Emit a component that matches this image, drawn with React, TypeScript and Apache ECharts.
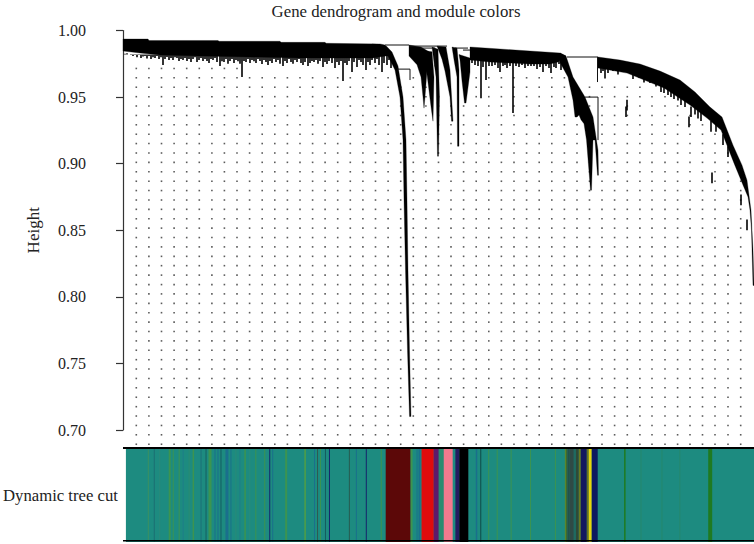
import React, { useEffect, useRef } from "react";
import * as echarts from "echarts";

type P = [number, number];

const heightTicks = [0.7, 0.75, 0.8, 0.85, 0.9, 0.95, 1.0];
const rowLabel = ["Dynamic tree cut"];

// Solid outlines of the dendrogram: [leaf rank, height]
const mainBlock: P[] = [[0,.9936],[25,.9936],[26,.9925],[95,.9925],[96,.9919],[157,.9919],[158,.9911],[202,.9911],[203,.9904],[257,.9899],[262,.9891],[262,.9808],[250,.9793],[217,.9793],[177,.9793],[127,.9801],[77,.9808],[37,.9816],[17,.9831],[0,.9846]];
const branch1: P[] = [[249,.9899],[263,.9886],[269,.9838],[275,.9733],[280,.95],[283,.9177],[284,.8725],[285,.8199],[286.5,.7597],[288,.7101],[286.5,.7101],[284.5,.7597],[282.5,.8199],[281,.8725],[280,.9177],[277,.95],[272,.9703],[265,.9808],[257,.9808]];
const fanA1: P[] = [[286,.9891],[298,.9876],[306,.984],[304,.97],[302,.95],[301,.9417],[300,.95],[298,.965],[294,.9743],[286,.9808]];
const fanA2: P[] = [[300,.985],[309,.984],[311,.965],[310,.9319],[308.5,.94],[304,.967]];
const fanA3: P[] = [[309,.9876],[315,.986],[316.5,.95],[315.5,.9056],[314.5,.9056],[313,.965]];
const fanA4: P[] = [[314,.9883],[323,.9876],[327,.9703],[330,.9319],[328.5,.9319],[327,.95],[322,.9695],[319,.9785]];
const fanA5: P[] = [[329,.9876],[334,.9868],[336,.9703],[336,.9131],[334.5,.9131],[334,.965],[331,.978]];
const fanA6: P[] = [[336,.982],[347,.9793],[347,.9688],[343,.9455],[341.5,.9455],[339,.962],[337,.9778]];
const middleBlock: P[] = [[347,.9876],[377,.9861],[407,.9846],[437,.9831],[443,.9808],[435,.9763],[427,.9748],[407,.9748],[387,.9756],[367,.9763],[347,.9778]];
const branch2: P[] = [[437,.9831],[443,.9808],[450,.965],[462,.95],[470,.935],[475,.9101],[475.5,.8913],[474.5,.8913],[472,.9177],[470,.9177],[468.5,.8801],[467.5,.8801],[463.5,.9177],[461,.93],[458,.933],[456,.9365],[454,.935],[452,.935],[450,.9477],[445,.965],[437,.976]];
const rightBlock: P[] = [[475,.9801],[497,.9778],[517,.9748],[537,.9695],[557,.9628],[572,.9538],[587,.9425],[599,.935],[610,.9139],[619,.8989],[624,.8876],[628,.865],[630,.835],[631,.8086],[630,.8086],[628.5,.85],[627,.865],[625,.875],[618,.8876],[611,.9004],[598,.9252],[584,.9342],[567,.944],[541,.9568],[504,.968],[475,.9718]];
const outlines = [mainBlock, branch1, fanA1, fanA2, fanA3, fanA4, fanA5, fanA6, middleBlock, branch2, rightBlock];

// Merge lines: [rank, height, rank, height]
const merges: [number, number, number, number][] = [
  [262,.9891,286,.9891],[274,.971,287,.971],[287,.971,287,.9628],
  [286,.9883,324,.9883],[297,.9868,312,.9868],[312,.9868,312,.973],
  [332,.9868,345,.9868],[340,.9853,347,.9853],[444,.9801,475,.9801],
  [474.5,.9801,474.5,.9613],[462,.95,475,.95],[475,.95,475,.9177],
];

// Leaf spikes: [rank, bottom]
const mainTips: P[] = [[2,.9826],[4,.983],[6,.982],[8,.9816],[10,.9808],[12,.9823],[14,.98],[16,.9816],[18,.9793],[20,.9805],[22,.9808],[24,.979],[26,.9808],[28,.9786],[30,.98],[32,.9793],[34,.9808],[36,.9786],[38,.98],[40,.9741],[42,.9786],[44,.9801],[46,.9778],[48,.9793],[50,.9778],[52,.98],[54,.9793],[56,.9771],[58,.9786],[60,.9778],[62,.9793],[64,.9771],[66,.9786],[68,.9763],[70,.9786],[72,.98],[74,.9763],[76,.9778],[78,.9793],[80,.9771],[82,.9786],[84,.9771],[86,.9756],[88,.9786],[90,.9778],[92,.9793],[94,.9763],[97,.9733],[99,.977],[101,.9763],[103,.9786],[105,.975],[107,.9771],[109,.9786],[111,.9756],[113,.9778],[115,.977],[117,.975],[119,.965],[121,.9771],[123,.9763],[125,.9786],[127,.9756],[129,.9778],[131,.977],[133,.9756],[135,.9786],[137,.9771],[139,.9748],[141,.9778],[143,.9763],[145,.9741],[147,.9771],[149,.9756],[151,.9786],[153,.9763],[155,.9778],[157,.975],[160,.9733],[162,.9771],[164,.9756],[166,.9786],[168,.9763],[170,.975],[172,.9778],[174,.9763],[176,.9786],[178,.9756],[180,.9741],[182,.9763],[185,.9733],[187,.9756],[189,.9771],[191,.9763],[193,.9778],[195,.975],[197,.9771],[200,.9726],[202,.9763],[204,.9748],[206,.9771],[209,.9756],[212,.9718],[214,.9763],[216,.9741],[218,.9771],[220,.962],[222,.9756],[224,.9741],[226,.9771],[229,.9688],[231,.9763],[234,.9726],[236,.9778],[238,.9763],[240,.9741],[243,.9703],[245,.9763],[247,.9741],[249,.9778],[252,.9756],[254,.9786],[256,.9741],[259,.9688],[261,.9756],[264,.9741],[266,.9778],[268,.9718]];
const middleTips: P[] = [[349,.9756],[352,.9741],[355,.9733],[358,.9492],[360,.9726],[363,.9628],[366,.9733],[369,.9733],[372,.9741],[375,.9718],[377,.9688],[380,.9733],[382,.9741],[384,.9718],[387,.9733],[390,.938],[393,.9733],[396,.9726],[399,.9741],[402,.9718],[405,.9733],[408,.9733],[411,.9733],[414,.971],[417,.9726],[420,.9688],[423,.9733],[426,.9718],[428,.968],[431,.9726],[433,.9718],[436,.9748],[438,.9703]];
const rightTips: P[] = [[478,.968],[480,.9695],[482,.964],[485,.968],[490,.9695],[495,.967],[503,.935],[504,.94],[510,.9635],[516,.9645],[521,.961],[527,.9605],[533,.958],[538,.9538],[541,.953],[545,.9515],[548,.95],[551,.9485],[555,.9475],[558,.944],[562,.9425],[566,.9274],[568,.935],[572,.937],[575,.934],[578,.932],[589,.8853],[588,.924],[593,.924],[600,.914],[605,.905],[618,.8688],[624,.85]];
const tips = [...mainTips, ...middleTips, ...rightTips];

// Dotted guides below the tree
const guideColumns = [13.3,25.9,38.5,51.1,63.7,76.3,88.9,101.4,114,126.6,139.2,151.8,164.4,177,189.6,202.1,214.7,227.3,239.9,252.5,265.1,277.7,290.3,302.9,315.5,328,340.6,353.2,365.8,378.4,391,403.6,416.2,428.8,441.4,454,466.5,479,491.6,504.3,516.9,529,542,554.6,567,579.5,592,605,617.7];
const guideRows = [.6893,.6964,.7034,.7105,.7175,.7246,.7317,.7387,.7458,.7528,.7599,.7669,.774,.781,.7881,.7951,.8022,.8092,.8163,.8234,.8304,.8375,.8445,.8516,.8586,.8657,.8727,.8798,.8868,.8939,.901,.908,.9151,.9221,.9292,.9362,.9433,.9503,.9574,.9645,.9715];
const guideRowCounts = [41,41,41,41,41,41,41,41,41,40,40,40,40,40,40,40,40,40,40,41,40,39,40,39,38,37,37,40,40,40,40,40,40,40,40,38,39,39,39,39,39,38,38,37,36,35,34,32,30];

// Module colour stripes: [from rank, to rank, colour]
const teal = "#1d8b80";
const stripes: [number, number, string][] = [
  [22,23,"#3b9160"],[28,29,"#1c6f72"],[33.5,34.5,"#2a8a78"],[43,45,"#3c9450"],[47,48,"#3c9450"],[53,54,"#3c9450"],[57,58,"#1f7d88"],[63,64,"#2b8c70"],[67,68.5,"#3c9450"],[75,76,"#1c7078"],[80,81,"#155f60"],[83,86,"#3c9450"],[89,90,"#1a6f8c"],[92,93,"#1a6f8c"],[95,96,"#145c60"],[100,103,"#1a6f8c"],[105,106,"#1a6f8c"],[110,111,"#2a8a78"],[114,115,"#1f7d88"],[119,120.5,"#3c9450"],[124,125,"#2a8c78"],[130,131,"#3c9450"],[139,140,"#3c9450"],[144,145,"#16246c"],[147,148,"#1a6f8c"],[160,162,"#3c9450"],[179.5,180.5,"#6aa828"],[189,190,"#1a6f8c"],[192,193,"#2f5a50"],[195,196,"#3c9450"],[200,201,"#145c60"],[204,205,"#16246c"],[224,225,"#285a50"],[231,232,"#1a6f8c"],[241,242,"#16246c"],
  [256,257,"#3c9450"],[261,286,"#5c0808"],[286,288,"#3c9450"],[292,293,"#1a6f8c"],[294,296,"#1a6f8c"],[297,309.3,"#e00c0c"],[309.3,314.3,"#5f1a6a"],[314.3,319.3,"#2b8c70"],[319.3,328.3,"#f47a8e"],[331,335,"#241c60"],[335,344,"#000000"],[351.5,353,"#1a6f8c"],[356,357,"#0f4a48"],[364,365,"#3c9450"],[372.5,373.5,"#3c9450"],[386.5,387.5,"#3c9450"],[406,407,"#3c9450"],[431,432,"#3c9450"],
  [441,442,"#6a8a20"],[442,443.5,"#3c6a30"],[443.5,446,"#24504a"],[446,450,"#2f4a45"],[450,452,"#1f6a60"],[452,455,"#2f4a38"],[455,457,"#6a7a20"],[457,463,"#14185e"],[463,465,"#6a7020"],[465,468,"#e9d50a"],[468,474,"#0d1a60"],[500.5,502,"#1f7a20"],[517,518,"#25886c"],[538,539,"#25886c"],[556,557,"#25886c"],[585,589,"#1f7a20"],
];
const stripeData = [[0, 631, teal], ...stripes] as [number, number, string][];

const X_MAX = 631;

// The height at which a spike leaves the solid part of the tree
function tipTop(rank: number): number {
  return rank < 345 ? 0.982 : rank < 440 ? 0.978 : 0.965;
}

export default function App() {
  const ref = useRef<HTMLDivElement>(null);
  useEffect(() => {
    document.body.style.margin = "0";
    const chart = echarts.init(ref.current!, undefined, { renderer: "svg" });
    const serif = "'Liberation Serif', serif";
    const dots: [number, number][] = [];
    guideColumns.forEach((x, i) => {
      guideRows.slice(0, guideRowCounts[i]).forEach((y) => dots.push([x, y]));
    });
    chart.setOption({
      animation: false,
      backgroundColor: "#fff",
      title: {
        text: "Gene dendrogram and module colors",
        left: 391,
        top: -2,
        textAlign: "center",
        textStyle: { fontFamily: serif, fontSize: 16.8, fontWeight: "normal", color: "#222" },
      },
      grid: [
        { left: 123, right: 0, top: 30.5, height: 399.5 },
        { left: 123, right: 0, top: 448, height: 94 },
      ],
      xAxis: [
        { gridIndex: 0, type: "value", min: 0, max: X_MAX, show: false },
        { gridIndex: 1, type: "value", min: 0, max: X_MAX, show: false },
      ],
      yAxis: [
        {
          gridIndex: 0,
          type: "value",
          min: 0.7,
          max: 1,
          interval: 0.05,
          offset: 24,
          name: "Height",
          nameLocation: "middle",
          nameGap: 57,
          nameRotate: 90,
          nameTextStyle: { fontFamily: serif, fontSize: 17, color: "#222" },
          splitLine: { show: false },
          axisLine: { show: true, lineStyle: { color: "#333", width: 1.2 } },
          axisTick: { show: true, length: 7, lineStyle: { color: "#333", width: 1.2 } },
          axisLabel: {
            margin: 13,
            fontFamily: serif,
            fontSize: 16,
            color: "#222",
            formatter: (v: number) => v.toFixed(2),
            customValues: heightTicks,
          },
        },
        {
          gridIndex: 1,
          type: "category",
          data: rowLabel,
          axisLine: { show: false },
          axisTick: { show: false },
          axisLabel: { margin: 8, fontFamily: serif, fontSize: 16.7, color: "#222" },
        },
      ],
      series: [
        {
          type: "scatter",
          name: "guides",
          xAxisIndex: 0,
          yAxisIndex: 0,
          clip: false,
          silent: true,
          symbol: "rect",
          symbolSize: 1.6,
          itemStyle: { color: "#333" },
          data: dots,
          z: 1,
        },
        {
          type: "custom",
          name: "outlines",
          xAxisIndex: 0,
          yAxisIndex: 0,
          clip: false,
          silent: true,
          z: 2,
          data: outlines.map((_, i) => [i]),
          renderItem: (p: any, api: any) => ({
            type: "polygon",
            shape: { points: outlines[p.dataIndex].map((pt) => api.coord(pt)) },
            style: { fill: "#000", stroke: "#000", lineWidth: 0.3 },
          }),
        },
        {
          type: "custom",
          name: "tips",
          xAxisIndex: 0,
          yAxisIndex: 0,
          clip: false,
          silent: true,
          z: 2,
          data: tips,
          renderItem: (p: any, api: any) => {
            const t = tips[p.dataIndex];
            const top = t[0] >= 440 ? t[1] + 0.008 : tipTop(t[0]);
            const a = api.coord([t[0], top]);
            const b = api.coord([t[0], t[1]]);
            return {
              type: "line",
              shape: { x1: a[0], y1: a[1], x2: b[0], y2: b[1] },
              style: { stroke: "#000", lineWidth: 1.6 },
            };
          },
        },
        {
          type: "custom",
          name: "merges",
          xAxisIndex: 0,
          yAxisIndex: 0,
          clip: false,
          silent: true,
          z: 2,
          data: merges,
          renderItem: (p: any, api: any) => {
            const m = merges[p.dataIndex];
            const a = api.coord([m[0], m[1]]);
            const b = api.coord([m[2], m[3]]);
            return {
              type: "line",
              shape: { x1: a[0], y1: a[1], x2: b[0], y2: b[1] },
              style: { stroke: "#111", lineWidth: 1 },
            };
          },
        },
        {
          type: "custom",
          name: "module colors",
          xAxisIndex: 1,
          yAxisIndex: 1,
          silent: true,
          z: 2,
          data: stripeData.map((s) => [s[0], 0]),
          renderItem: (p: any, api: any) => {
            const s = stripeData[p.dataIndex];
            const c0 = api.coord([s[0], 0]);
            const c1 = api.coord([s[1], 0]);
            const h = api.size([0, 1])[1];
            return {
              type: "rect",
              shape: { x: c0[0], y: c0[1] - h / 2, width: c1[0] - c0[0], height: h },
              style: { fill: s[2] },
            };
          },
        },
      ],
      graphic: [
        { type: "rect", z: 50, shape: { x: 123, y: 447, width: 631, height: 2 }, style: { fill: "#000" } },
        { type: "rect", z: 50, shape: { x: 123, y: 540, width: 631, height: 1.4 }, style: { fill: "#000" } },
      ],
    });
    return () => chart.dispose();
  }, []);
  return <div ref={ref} style={{ width: 754, height: 544, overflow: "hidden" }} />;
}
